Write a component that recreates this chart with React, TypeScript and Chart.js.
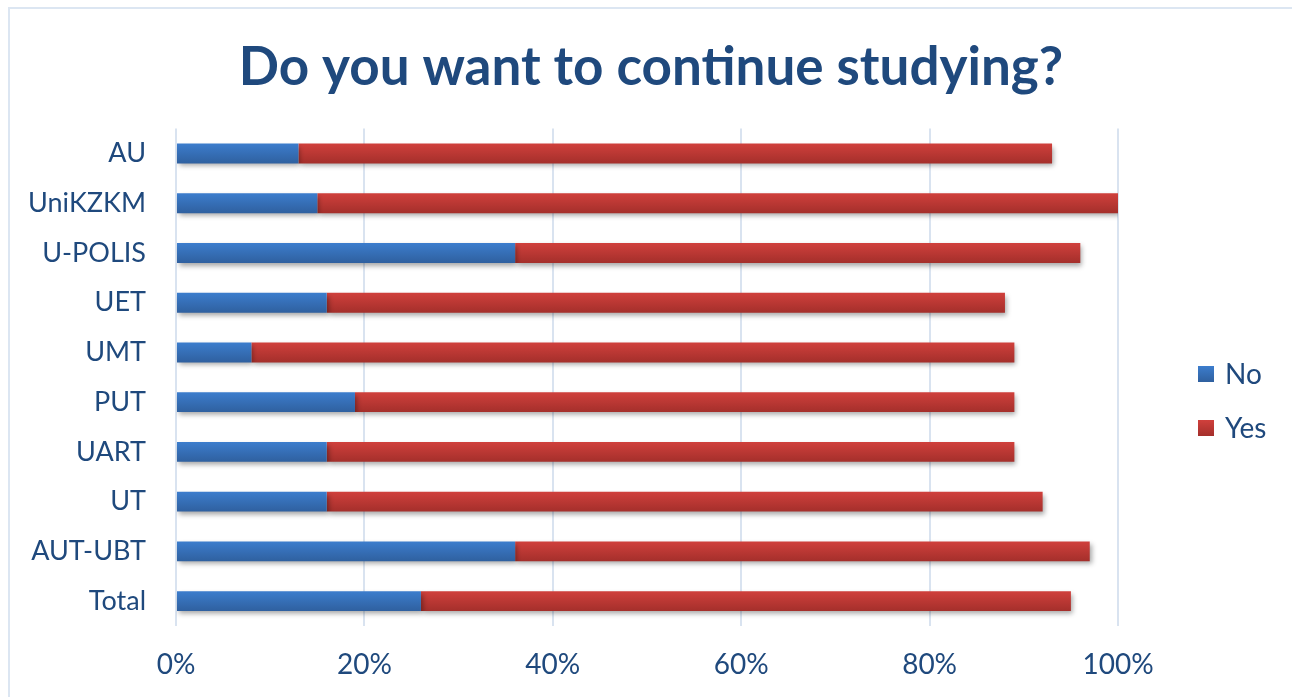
import React, { useEffect, useRef } from "react";
import { Chart, registerables } from "chart.js";

Chart.register(...registerables);

const categories = ["AU", "UniKZKM", "U-POLIS", "UET", "UMT", "PUT", "UART", "UT", "AUT-UBT", "Total"];
const noValues = [13, 15, 36, 16, 8, 19, 16, 16, 36, 26];
const yesValues = [80, 85, 60, 72, 81, 70, 73, 76, 61, 69];
const seriesNames = ["No", "Yes"];
const xTicks = [0, 20, 40, 60, 80, 100];

const FONT = "Lato, 'Open Sans', sans-serif";
const TEXT = "#1F497D";
const BLUE = ["#3C7DCD", "#2F609F"];
const RED = ["#D0403C", "#A42F2B"];

function gradientFill(cols: string[]) {
  return (ctx: any) => {
    const chart = ctx.chart;
    const y = chart.scales && chart.scales.y;
    if (!y || !chart.chartArea || ctx.type !== "data") return cols[0];
    const c = y.getPixelForValue(ctx.dataIndex);
    const h = 10;
    const g = chart.ctx.createLinearGradient(0, c - h, 0, c + h);
    g.addColorStop(0, cols[0]);
    g.addColorStop(1, cols[1]);
    return g;
  };
}

const shadowPlugin = {
  id: "barShadow",
  beforeDatasetsDraw(chart: any) {
    const c = chart.ctx;
    c.save();
    c.shadowColor = "rgba(0,0,0,0.35)";
    c.shadowBlur = 5;
    c.shadowOffsetX = 2;
    c.shadowOffsetY = 3;
  },
  afterDatasetsDraw(chart: any) {
    chart.ctx.restore();
  },
};

const legendPlugin = {
  id: "customLegend",
  afterDraw(chart: any) {
    const c = chart.ctx;
    const fills = [BLUE, RED];
    const x = 1198;
    const ys = [374, 428];
    c.save();
    chart.data.datasets.forEach((ds: any, i: number) => {
      const y = ys[i];
      const g = c.createLinearGradient(0, y - 8, 0, y + 8);
      g.addColorStop(0, fills[i][0]);
      g.addColorStop(1, fills[i][1]);
      c.fillStyle = g;
      c.fillRect(x, y - 8, 16, 16);
      c.fillStyle = TEXT;
      c.font = `28px ${FONT}`;
      c.textBaseline = "middle";
      c.textAlign = "left";
      c.fillText(ds.label, x + 27, y + 1);
    });
    c.restore();
  },
};

export default function App() {
  const ref = useRef<HTMLCanvasElement>(null);
  useEffect(() => {
    if (!ref.current) return;
    const chart = new Chart(ref.current, {
      type: "bar",
      data: {
        labels: categories,
        datasets: [
          { label: seriesNames[0], data: noValues, backgroundColor: gradientFill(BLUE) as any },
          { label: seriesNames[1], data: yesValues, backgroundColor: gradientFill(RED) as any },
        ],
      },
      options: {
        indexAxis: "y",
        animation: false,
        responsive: false,
        events: [],
        layout: { padding: { left: 10, right: 0, top: 0, bottom: 0 } },
        datasets: { bar: { barPercentage: 0.8, categoryPercentage: 0.5 } },
        plugins: {
          legend: { display: false },
          tooltip: { enabled: false },
          title: {
            display: true,
            text: "Do you want to continue studying?",
            color: TEXT,
            font: { family: FONT, size: 53, weight: "bold" },
            padding: { top: 36, bottom: 29 },
          },
        },
        scales: {
          x: {
            stacked: true,
            min: 0,
            max: 100,
            afterBuildTicks: (s: any) => {
              s.ticks = xTicks.map((v) => ({ value: v }));
            },
            afterFit: (s: any) => {
              s.height = 71;
            },
            ticks: {
              color: TEXT,
              font: { family: FONT, size: 28 },
              padding: 22,
              callback: (v: any) => v + "%",
            },
            grid: { color: "#D9E3F0", lineWidth: 2, drawTicks: false },
            border: { display: false },
          },
          y: {
            stacked: true,
            afterFit: (s: any) => {
              s.width = 166;
            },
            ticks: { color: TEXT, font: { family: FONT, size: 27 }, padding: 30 },
            grid: { display: false, drawTicks: false },
            border: { display: false },
          },
          yPad: {
            type: "linear",
            position: "right",
            display: true,
            afterFit: (s: any) => {
              s.width = 174;
            },
            ticks: { display: false },
            grid: { display: false, drawTicks: false },
            border: { display: false },
          },
        },
      },
      plugins: [shadowPlugin, legendPlugin],
    });
    return () => chart.destroy();
  }, []);
  return (
    <>
      <div
        style={{
          position: "fixed",
          left: 8,
          top: 7,
          width: 1300,
          height: 700,
          borderLeft: "2px solid #DCE6F2",
          borderTop: "2px solid #DCE6F2",
          boxSizing: "border-box",
        }}
      />
      <canvas
        ref={ref}
        width={1292}
        height={697}
        style={{ position: "fixed", left: 0, top: 0, width: 1292, height: 697 }}
      />
    </>
  );
}
